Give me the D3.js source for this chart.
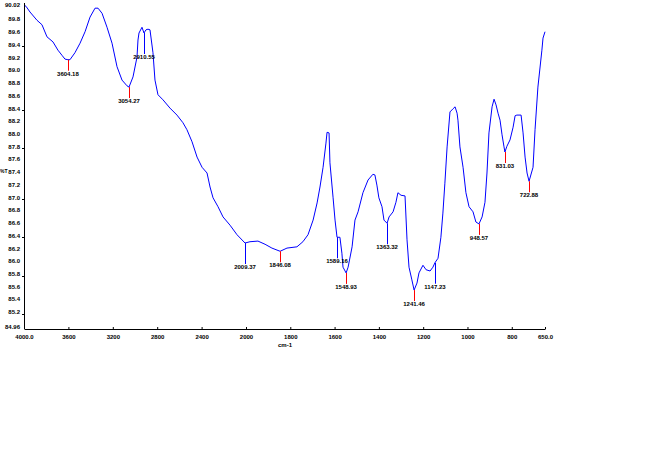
<!DOCTYPE html>
<html>
<head>
<meta charset="utf-8">
<script src="https://cdn.jsdelivr.net/npm/d3@7"></script>
<style>
  body { margin: 0; background: #fff; }
  text { font-family: 'Liberation Sans', Arial, sans-serif; font-weight: bold; }
</style>
</head>
<body>
<div id="chart"></div>
<script>
// spectrum
const wavenumbers = [4000, 3982, 3946, 3883, 3838, 3793, 3739, 3694, 3658, 3631,
  3604, 3586, 3541, 3495, 3450, 3405, 3360, 3333, 3297, 3252,
  3207, 3162, 3117, 3072, 3054, 3018, 2982, 2973, 2964, 2937,
  2919, 2901, 2883, 2865, 2838, 2820, 2793, 2748, 2685, 2622,
  2568, 2532, 2486, 2441, 2396, 2351, 2324, 2297, 2252, 2207,
  2144, 2081, 2009, 1982, 1946, 1914, 1883, 1846, 1815, 1770,
  1743, 1720, 1697, 1679, 1666, 1652, 1639, 1634, 1625, 1621,
  1607, 1598, 1589, 1576, 1567, 1562, 1548, 1539, 1521, 1508,
  1494, 1472, 1449, 1427, 1418, 1409, 1400, 1386, 1377, 1363,
  1354, 1336, 1323, 1314, 1300, 1282, 1273, 1264, 1251, 1241,
  1228, 1219, 1201, 1187, 1169, 1156, 1147, 1133, 1120, 1111,
  1102, 1092, 1079, 1065, 1056, 1047, 1043, 1034, 1020, 1007,
  993, 975, 962, 948, 934, 921, 912, 903, 889, 880,
  871, 862, 853, 844, 835, 831, 822, 808, 794, 785,
  777, 758, 749, 740, 731, 722, 704, 695, 682, 664,
  659, 650]

const transmittance = [90.02, 90.00, 89.91, 89.78, 89.71, 89.52, 89.44, 89.31, 89.23, 89.17,
  89.16, 89.16, 89.27, 89.42, 89.60, 89.83, 89.97, 89.97, 89.89, 89.67,
  89.42, 89.05, 88.84, 88.75, 88.73, 88.89, 89.20, 89.47, 89.58, 89.67,
  89.58, 89.63, 89.64, 89.63, 89.27, 88.84, 88.61, 88.53, 88.40, 88.29,
  88.17, 88.06, 87.87, 87.63, 87.47, 87.38, 87.16, 86.99, 86.85, 86.69,
  86.56, 86.41, 86.28, 86.30, 86.31, 86.26, 86.20, 86.15, 86.20, 86.22,
  86.30, 86.41, 86.64, 86.91, 87.16, 87.47, 87.85, 88.02, 88.01, 87.54,
  87.00, 86.64, 86.37, 86.37, 86.12, 85.90, 85.81, 85.90, 86.22, 86.64,
  86.77, 87.07, 87.27, 87.36, 87.35, 87.19, 86.99, 86.85, 86.64, 86.59,
  86.69, 86.77, 86.92, 87.07, 87.03, 87.02, 86.33, 85.90, 85.70, 85.54,
  85.65, 85.81, 85.93, 85.86, 85.84, 85.90, 85.97, 86.04, 86.37, 86.75,
  87.22, 87.79, 88.34, 88.39, 88.42, 88.32, 88.21, 87.79, 87.47, 87.07,
  86.85, 86.77, 86.61, 86.58, 86.69, 86.92, 87.38, 88.01, 88.42, 88.54,
  88.45, 88.32, 88.21, 87.98, 87.79, 87.71, 87.80, 87.90, 88.10, 88.28,
  88.29, 88.29, 88.01, 87.63, 87.38, 87.25, 87.47, 88.06, 88.73, 89.31,
  89.50, 89.60]

// picked peaks: position, label, kind (minimum or shoulder)
const peakPositions = [3604, 3054, 2919, 2009, 1846, 1589, 1548, 1363, 1241, 1147, 948, 831, 722]
const peakTransmittance = [89.16, 88.73, 89.58, 86.28, 86.15, 86.37, 85.81, 86.59, 85.54, 85.97, 86.58, 87.71, 87.25]
const peakLabels = ['3604.18', '3054.27', '2910.55', '2009.37', '1846.08', '1589.16', '1548.93',
  '1363.32', '1241.46', '1147.23', '948.57', '831.03', '722.88']
const peakKinds = ['min', 'min', 'shoulder', 'shoulder', 'min', 'shoulder', 'min',
  'shoulder', 'min', 'shoulder', 'min', 'min', 'min']

const xTicks = [4000, 3600, 3200, 2800, 2400, 2000, 1800, 1600, 1400, 1200, 1000, 800, 650]
const yTicks = [90.02, 89.8, 89.6, 89.4, 89.2, 89.0, 88.8, 88.6, 88.4, 88.2, 88.0, 87.8, 87.6,
  87.4, 87.2, 87.0, 86.8, 86.6, 86.4, 86.2, 86.0, 85.8, 85.6, 85.4, 85.2, 84.96]
const yMarks = [89.4, 88.4, 87.8, 87.0, 86.4, 85.8, 85.2]
const yTitleAt = 87.4

const width = 652
const height = 456
const axisY = 329

const svg = d3.select('#chart').append('svg')
  .attr('width', width)
  .attr('height', height)

// the instrument doubles the scale below 2000 cm-1
const x = d3.scaleLinear()
  .domain([4000, 2000, 650])
  .range([24, 246, 545])

const y = d3.scaleLinear()
  .domain([84.96, 90.02])
  .range([327, 5])

/**
 * Draws both axes, tick labels and titles
 *
 * @param {*} g the group to draw in
 */
function drawAxes (g) {
  const xAxis = d3.axisBottom(x)
    .tickValues(xTicks)
    .tickFormat(d => (d === 4000 || d === 650) ? d.toFixed(1) : String(d))
    .tickSizeInner(-2)
    .tickSizeOuter(0)
    .tickPadding(6)

  const gx = g.append('g')
    .attr('transform', `translate(0, ${axisY})`)
    .call(xAxis)
  gx.selectAll('text').attr('font-size', '6px').attr('fill', '#000')
  gx.selectAll('line, path').attr('stroke', '#000')

  const yAxis = d3.axisLeft(y)
    .tickValues(yTicks)
    .tickFormat(d => (d === 90.02 || d === 84.96) ? d.toFixed(2) : d.toFixed(1))
    .tickSize(0)
    .tickPadding(4)

  const gy = g.append('g')
    .attr('transform', 'translate(24, 0)')
    .call(yAxis)
  gy.select('.domain').remove()
  gy.selectAll('text').attr('font-size', '6px').attr('fill', '#000')

  g.append('line')
    .attr('x1', 24.5)
    .attr('x2', 24.5)
    .attr('y1', 3)
    .attr('y2', axisY)
    .attr('stroke', '#000')

  g.selectAll('.ymark')
    .data(yMarks)
    .enter().append('line')
    .attr('class', 'ymark')
    .attr('x1', 22)
    .attr('x2', 24)
    .attr('y1', d => Math.round(y(d)) + 2.5)
    .attr('y2', d => Math.round(y(d)) + 2.5)
    .attr('stroke', '#000')

  g.append('text')
    .attr('x', 0)
    .attr('y', y(yTitleAt))
    .attr('dy', '0.32em')
    .attr('font-size', '5px')
    .text('%T')

  g.append('text')
    .attr('x', 285)
    .attr('y', 345)
    .attr('dy', '0.32em')
    .attr('text-anchor', 'middle')
    .attr('font-size', '6px')
    .text('cm-1')
}

/**
 * Draws the spectrum line
 *
 * @param {*} g the group to draw in
 */
function drawSpectrum (g) {
  const points = wavenumbers.map((w, i) => [w, transmittance[i]])
  const line = d3.line()
    .x(d => x(d[0]))
    .y(d => y(d[1]))

  g.append('path')
    .datum(points)
    .attr('d', line)
    .attr('fill', 'none')
    .attr('stroke', '#0000ff')
    .attr('stroke-width', 1)
}

/**
 * Draws the peak markers and their labels
 *
 * @param {*} g the group to draw in
 */
function drawPeaks (g) {
  const peaks = peakPositions.map((p, i) => ({
    pos: p,
    t: peakTransmittance[i],
    label: peakLabels[i],
    kind: peakKinds[i]
  }))

  const lineLength = d => d.kind === 'min' ? 11 : 21

  const marks = g.selectAll('.peak')
    .data(peaks)
    .enter().append('g')
    .attr('class', 'peak')

  marks.append('line')
    .attr('x1', d => Math.round(x(d.pos)) + 0.5)
    .attr('x2', d => Math.round(x(d.pos)) + 0.5)
    .attr('y1', d => y(d.t))
    .attr('y2', d => y(d.t) + lineLength(d))
    .attr('stroke', d => d.kind === 'min' ? '#ff0000' : '#0000ff')
    .attr('stroke-width', 1)

  marks.append('text')
    .attr('x', d => x(d.pos))
    .attr('y', d => y(d.t) + lineLength(d) + 3)
    .attr('dy', '0.32em')
    .attr('text-anchor', 'middle')
    .attr('font-size', '6px')
    .attr('fill', '#000')
    .text(d => d.label)
}

const g = svg.append('g')
drawSpectrum(g)
drawPeaks(g)
drawAxes(g)
</script>
</body>
</html>
